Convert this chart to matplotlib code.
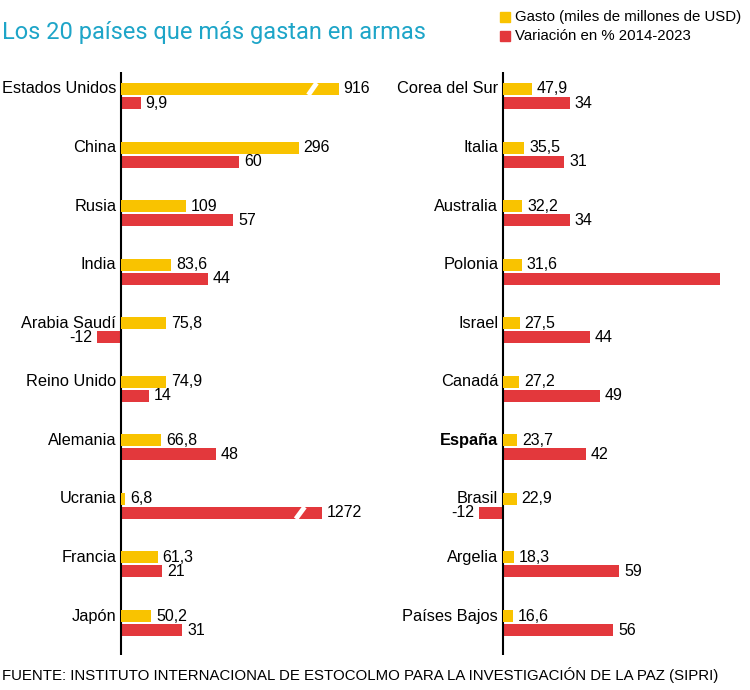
import matplotlib.pyplot as plt

# data
left_countries = ['Estados Unidos', 'China', 'Rusia', 'India', 'Arabia Saudí',
                  'Reino Unido', 'Alemania', 'Ucrania', 'Francia', 'Japón']
left_gasto = [916, 296, 109, 83.6, 75.8, 74.9, 66.8, 6.8, 61.3, 50.2]
left_var = [9.9, 60, 57, 44, -12, 14, 48, 1272, 21, 31]

right_countries = ['Corea del Sur', 'Italia', 'Australia', 'Polonia', 'Israel',
                   'Canadá', 'España', 'Brasil', 'Argelia', 'Países Bajos']
right_gasto = [47.9, 35.5, 32.2, 31.6, 27.5, 27.2, 23.7, 22.9, 18.3, 16.6]
right_var = [34, 31, 34, 181, 44, 49, 42, -12, 59, 56]

title = 'Los 20 países que más gastan en armas'
legend_labels = ['Gasto (miles de millones de USD)', 'Variación en % 2014-2023']
source = 'FUENTE: INSTITUTO INTERNACIONAL DE ESTOCOLMO PARA LA INVESTIGACIÓN DE LA PAZ (SIPRI)'

# style
GOLD = '#f9c300'
RED = '#e3383c'
BLUE = '#1ea5c8'
plt.rcParams['font.family'] = ['Liberation Sans', 'DejaVu Sans']

# bars drawn shorter than their value (broken / capped)
caps_gold = {'Estados Unidos': 363}
caps_red = {'Ucrania': 102, 'Polonia': 110}
no_label = ['Polonia']
bold = ['España']

fig = plt.figure(figsize=(7.5, 6.9), dpi=100)


def fmt(v):
    if float(v).is_integer():
        return str(int(v))
    return f'{v}'.replace('.', ',')


def panel(left_px, right_px, axis_px, countries, gasto, var):
    ax_top, ax_bot = 72, 655
    ax = fig.add_axes([left_px / 750, 1 - ax_bot / 690,
                       (right_px - left_px) / 750, (ax_bot - ax_top) / 690])
    red_px = 1.97
    gold_px = 0.6
    x0 = -(axis_px - left_px) / red_px
    x1 = (right_px - axis_px) / red_px
    ax.set_xlim(x0, x1)
    ax.set_ylim(9.546, -0.41)
    axg = ax.twiny()
    axg.set_xlim(x0 * red_px / gold_px, x1 * red_px / gold_px)
    for a in (ax, axg):
        a.axis('off')
    ax.plot([0, 0], [-0.41, 9.546], color='black', lw=1.5, zorder=5)

    h = 0.205
    off = 0.12
    for i, c in enumerate(countries):
        g = gasto[i]
        gl = caps_gold.get(c, g)
        axg.barh(i - off, gl, height=h, color=GOLD, zorder=3)
        axg.text(gl + 8, i - off, fmt(g), va='center', ha='left', fontsize=11.5)
        if c in caps_gold:
            xb = gl * 0.86
            axg.plot([xb, xb + 14], [i - off + h / 2, i - off - h / 2],
                     color='white', lw=3.5, zorder=4, solid_capstyle='butt')

        r = var[i]
        rl = caps_red.get(c, r)
        ax.barh(i + off, rl, height=h, color=RED, zorder=3)
        if c not in no_label:
            if r < 0:
                ax.text(rl - 2.5, i + off, fmt(r), va='center', ha='right', fontsize=11.5)
            else:
                ax.text(rl + 2.5, i + off, fmt(r), va='center', ha='left', fontsize=11.5)
            if c in caps_red:
                xb = rl * 0.87
                ax.plot([xb, xb + 4.5], [i + off + h / 2, i + off - h / 2],
                        color='white', lw=3.5, zorder=4, solid_capstyle='butt')

        ax.annotate(c, xy=(0, i - off), xytext=(-3.5, 0), textcoords='offset points',
                    ha='right', va='center', fontsize=11.8,
                    fontweight='bold' if c in bold else 'normal')


panel(95, 370, 121, left_countries, left_gasto, left_var)
panel(477, 750, 503, right_countries, right_gasto, right_var)

fig.text(2 / 750, 1 - 33 / 690, title, color=BLUE, fontsize=17, va='center',
         ha='left', family=['Roboto', 'DejaVu Sans'])
for k, (lab, col) in enumerate(zip(legend_labels, [GOLD, RED])):
    y = 17 + k * 19
    fig.patches.append(plt.Rectangle((500 / 750, 1 - (y + 5) / 690), 10 / 750, 10 / 690,
                                     transform=fig.transFigure, color=col, figure=fig))
    fig.text(515 / 750, 1 - y / 690, lab, fontsize=10.8, va='center', ha='left')

fig.text(2 / 750, 1 - 675 / 690, source, fontsize=10.8, va='center', ha='left')

fig.savefig('out.png', dpi=100)
